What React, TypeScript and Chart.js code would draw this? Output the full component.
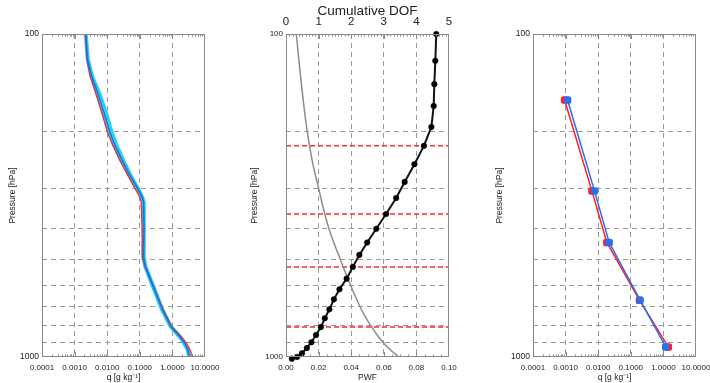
import React, { useEffect, useRef } from 'react';
import { Chart, registerables } from 'chart.js';
Chart.register(...registerables);

// ---------- axis ticks ----------
const pressureTicks = [100, 200, 300, 400, 500, 600, 700, 800, 900, 1000];
const qTicks = [0.0001, 0.001, 0.01, 0.1, 1, 10];
const pwfTicks = [0, 0.02, 0.04, 0.06, 0.08, 0.1];
const dofTicks = [0, 1, 2, 3, 4, 5];

// ---------- left panel: humidity profiles ----------
const qLevels = [100, 120, 135, 155, 180, 200, 220, 245, 270, 300, 318, 330, 400, 490, 525, 605, 715, 805, 860, 907, 950, 1000];
const qRed = [0.0021, 0.0024, 0.0030, 0.0047, 0.0074, 0.0100, 0.0145, 0.024, 0.040, 0.070, 0.097, 0.110, 0.118, 0.120, 0.145, 0.26, 0.53, 0.95, 1.8, 2.75, 3.45, 4.2];
const qBlue = [0.0022, 0.0025, 0.0033, 0.0055, 0.0088, 0.0120, 0.0170, 0.028, 0.046, 0.085, 0.115, 0.130, 0.135, 0.130, 0.150, 0.26, 0.50, 0.90, 1.6, 2.4, 3.0, 3.3];
const qCyanA = [0.0021, 0.0024, 0.0031, 0.0049, 0.0078, 0.0107, 0.0152, 0.025, 0.042, 0.078, 0.108, 0.122, 0.126, 0.122, 0.140, 0.24, 0.46, 0.84, 1.48, 2.2, 2.8, 3.1];
const qCyanB = [0.0023, 0.0027, 0.0036, 0.0064, 0.0104, 0.0140, 0.0198, 0.032, 0.051, 0.090, 0.122, 0.137, 0.142, 0.137, 0.157, 0.275, 0.52, 0.95, 1.7, 2.5, 3.1, 3.5];

// ---------- middle panel: cumulative DOF and PWF ----------
const dofLevels = [100, 121, 143, 167, 194, 222, 253, 287, 322, 361, 401, 442, 483, 526, 572, 617, 663, 712, 759, 808, 855, 900, 938, 974, 1000, 1012];
const dofValues = [4.61, 4.58, 4.55, 4.53, 4.46, 4.23, 3.94, 3.64, 3.38, 3.07, 2.77, 2.49, 2.25, 2.05, 1.86, 1.64, 1.47, 1.33, 1.19, 1.07, 0.92, 0.78, 0.64, 0.49, 0.34, 0.18];
const pwfLevels = [100, 150, 200, 250, 300, 350, 400, 450, 500, 550, 600, 650, 700, 750, 800, 850, 900, 950, 1000];
const pwfValues = [0.0063, 0.0099, 0.0130, 0.0163, 0.0200, 0.0231, 0.0263, 0.0299, 0.0334, 0.0366, 0.0397, 0.0426, 0.0455, 0.0486, 0.0520, 0.0556, 0.0595, 0.0639, 0.0694];
const redLevels = [222, 361, 526, 808];

// ---------- right panel: layer values ----------
const layerLevels = [160, 306, 442, 667, 931];
const layerBlue = [0.00115, 0.0077, 0.0217, 0.193, 1.18];
const layerRed = [0.00093, 0.0064, 0.0184, 0.184, 1.42];

const FONT = "'Liberation Sans', Arial, Helvetica, sans-serif";
const GRID = '#9a9a9a';
const FRAME = '#8a8a8a';
const TXT = '#222';

const pts = (xs: number[], ys: number[]) => xs.map((x, i) => ({ x, y: ys[i] }));

const logMinor: number[] = [];
for (let n = -4; n <= 0; n++) for (let k = 2; k <= 9; k++) logMinor.push(k * Math.pow(10, n));
const dofMinor: number[] = [];
for (let i = 0; i <= 50; i++) dofMinor.push(i / 10);
const pwfMinor: number[] = [];
for (let i = 0; i <= 20; i++) pwfMinor.push(i * 0.005);

type TickSpec = { id: string; values: number[]; len: number; edges: ('top' | 'bottom')[] };

const frameTicks = (specs: TickSpec[]) => ({
  id: 'frameTicks',
  afterDatasetsDraw(chart: any) {
    const { ctx, chartArea } = chart;
    const { left, right, top, bottom } = chartArea;
    ctx.save();
    ctx.strokeStyle = FRAME;
    ctx.lineWidth = 1;
    ctx.setLineDash([]);
    ctx.strokeRect(Math.round(left) + 0.5, Math.round(top) + 0.5, Math.round(right - left) - 1, Math.round(bottom - top) - 1);
    for (const s of specs) {
      const scale = chart.scales[s.id];
      ctx.beginPath();
      for (const v of s.values) {
        const x = Math.round(scale.getPixelForValue(v)) + 0.5;
        if (x < left || x > right) continue;
        for (const e of s.edges) {
          if (e === 'top') { ctx.moveTo(x, top); ctx.lineTo(x, top + s.len); }
          else { ctx.moveTo(x, bottom); ctx.lineTo(x, bottom - s.len); }
        }
      }
      ctx.stroke();
    }
    ctx.restore();
  },
});

const edgeColor = (edges: number[]) => (c: any) => {
  const v = c.tick ? c.tick.value : null;
  return edges.some((e) => Math.abs(e - v) < 1e-9) ? 'rgba(0,0,0,0)' : GRID;
};

const pressureAxis = (width: number, titlePad: number, tickSize: number) => ({
  type: 'logarithmic',
  reverse: true,
  min: 100,
  max: 1000,
  afterBuildTicks: (s: any) => { s.ticks = pressureTicks.map((v) => ({ value: v })); },
  afterFit: (s: any) => { s.width = width; s.paddingTop = 0; s.paddingBottom = 0; },
  ticks: {
    autoSkip: false,
    padding: 3,
    color: TXT,
    font: { family: FONT, size: tickSize },
    callback: (v: any) => (v === 100 || v === 1000 ? String(v) : ''),
  },
  grid: { color: edgeColor([100, 1000]), drawTicks: false, lineWidth: 1 },
  border: { display: false, dash: [5, 4] },
  title: { display: true, text: 'Pressure [hPa]', color: TXT, font: { family: FONT, size: 8.5 }, padding: { top: titlePad, bottom: 0 } },
});

const qAxis = () => ({
  type: 'logarithmic',
  position: 'bottom',
  min: 0.0001,
  max: 10,
  afterBuildTicks: (s: any) => { s.ticks = qTicks.map((v) => ({ value: v })); },
  afterFit: (s: any) => { s.height = 26; s.paddingLeft = 0; s.paddingRight = 0; },
  ticks: {
    autoSkip: false, maxRotation: 0, minRotation: 0, padding: 6, color: TXT,
    font: { family: FONT, size: 8 },
    callback: (v: any) => Number(v).toFixed(4),
  },
  grid: { color: edgeColor([0.0001, 10]), drawTicks: false, lineWidth: 1 },
  border: { display: false, dash: [5, 4] },
  title: { display: true, text: 'q [g kg⁻¹]', color: TXT, font: { family: FONT, size: 8.5 }, padding: { top: 0, bottom: 0 } },
});

const baseOpts = (padRight: number, padTop: number) => ({
  animation: false,
  responsive: false,
  devicePixelRatio: 1,
  layout: { padding: { top: padTop, right: padRight, left: 0, bottom: 0 } },
  plugins: { legend: { display: false }, tooltip: { enabled: false } },
});

const logTickSpec: TickSpec[] = [
  { id: 'x', values: logMinor, len: 2.5, edges: ['top', 'bottom'] },
  { id: 'x', values: qTicks, len: 5, edges: ['top', 'bottom'] },
];

// Note: Chart.js draws the first dataset on top.
function leftConfig(): any {
  return {
    type: 'scatter',
    data: {
      datasets: [
        { data: pts(qBlue, qLevels), showLine: true, borderColor: '#1f6fe6', borderWidth: 1.6, pointRadius: 0 },
        { data: pts(qRed, qLevels), showLine: true, borderColor: '#ff2a2a', borderWidth: 1.3, pointRadius: 0 },
        { data: pts(qCyanA, qLevels), showLine: true, borderColor: '#19d2f6', borderWidth: 2.5, pointRadius: 0 },
        { data: pts(qCyanB, qLevels), showLine: true, borderColor: '#19d2f6', borderWidth: 2.5, pointRadius: 0 },
      ],
    },
    options: {
      ...baseOpts(35, 34),
      scales: { x: qAxis(), y: pressureAxis(42, 8, 8.5) },
    },
    plugins: [frameTicks(logTickSpec)],
  };
}

function middleConfig(): any {
  const redSets = redLevels.map((p) => ({
    xAxisID: 'xTop',
    data: [{ x: 0, y: p }, { x: 5, y: p }],
    showLine: true, borderColor: '#ff2a2a', borderWidth: 1.5, borderDash: [5, 3], pointRadius: 0,
  }));
  return {
    type: 'scatter',
    data: {
      datasets: [
        { xAxisID: 'xTop', data: pts(dofValues, dofLevels), showLine: true, borderColor: '#111', borderWidth: 2, pointRadius: 2.8, pointBorderWidth: 0.5, pointBackgroundColor: '#000', pointBorderColor: '#000', clip: false },
        { xAxisID: 'x', data: pts(pwfValues, pwfLevels), showLine: true, borderColor: '#8c8c8c', borderWidth: 1.5, pointRadius: 0, tension: 0.4 },
        ...redSets,
      ],
    },
    options: {
      ...baseOpts(31, 0),
      scales: {
        x: {
          type: 'linear', position: 'bottom', min: 0, max: 0.1,
          afterBuildTicks: (s: any) => { s.ticks = pwfTicks.map((v) => ({ value: v })); },
          afterFit: (s: any) => { s.height = 26; s.paddingLeft = 0; s.paddingRight = 0; },
          ticks: { autoSkip: false, maxRotation: 0, minRotation: 0, padding: 6, color: TXT, font: { family: FONT, size: 8 }, callback: (v: any) => Number(v).toFixed(2) },
          grid: { color: edgeColor([0, 0.1]), drawTicks: false, lineWidth: 1 },
          border: { display: false, dash: [5, 4] },
          title: { display: true, text: 'PWF', color: TXT, font: { family: FONT, size: 8.5 }, padding: { top: 0, bottom: 0 } },
        },
        xTop: {
          type: 'linear', position: 'top', min: 0, max: 5,
          afterBuildTicks: (s: any) => { s.ticks = dofTicks.map((v) => ({ value: v })); },
          afterFit: (s: any) => { s.height = 34; s.paddingLeft = 0; s.paddingRight = 0; },
          ticks: { autoSkip: false, maxRotation: 0, minRotation: 0, padding: 5, color: TXT, font: { family: FONT, size: 11.5 }, callback: (v: any) => String(v) },
          grid: { display: false, drawTicks: false },
          border: { display: false },
          title: { display: true, text: 'Cumulative DOF', color: TXT, font: { family: FONT, size: 13.5 }, padding: { top: 3, bottom: 0 } },
        },
        y: pressureAxis(46, 10, 8),
      },
    },
    plugins: [frameTicks([
      { id: 'xTop', values: dofMinor, len: 2.5, edges: ['top'] },
      { id: 'xTop', values: dofTicks, len: 5, edges: ['top'] },
      { id: 'x', values: pwfMinor, len: 2.5, edges: ['bottom'] },
      { id: 'x', values: pwfTicks, len: 5, edges: ['bottom'] },
    ])],
  };
}

function rightConfig(): any {
  return {
    type: 'scatter',
    data: {
      datasets: [
        { data: pts(layerBlue, layerLevels), showLine: true, borderColor: '#2a6ff0', borderWidth: 1.5, pointRadius: 3.5, pointStyle: 'rectRounded', pointBackgroundColor: '#2a6ff0', pointBorderColor: '#2a6ff0' },
        { data: pts(layerRed, layerLevels), showLine: true, borderColor: '#ff2020', borderWidth: 1.5, pointRadius: 3.5, pointStyle: 'rectRounded', pointBackgroundColor: '#ff2020', pointBorderColor: '#ff2020' },
      ],
    },
    options: {
      ...baseOpts(14, 34),
      scales: { x: qAxis(), y: pressureAxis(53, 15, 8.5) },
    },
    plugins: [frameTicks(logTickSpec)],
  };
}

export default function App() {
  const r1 = useRef<HTMLCanvasElement>(null);
  const r2 = useRef<HTMLCanvasElement>(null);
  const r3 = useRef<HTMLCanvasElement>(null);

  useEffect(() => {
    Chart.defaults.font.family = FONT;
    const charts = [
      new Chart(r1.current as HTMLCanvasElement, leftConfig()),
      new Chart(r2.current as HTMLCanvasElement, middleConfig()),
      new Chart(r3.current as HTMLCanvasElement, rightConfig()),
    ];
    return () => charts.forEach((c) => c.destroy());
  }, []);

  const cs = (left: number, width: number): React.CSSProperties => ({
    position: 'absolute', left, top: 0, width, height: 383, display: 'block',
  });

  return (
    <div style={{ position: 'fixed', left: 0, top: 0, width: 710, height: 383, background: '#fff', overflow: 'hidden' }}>
      <canvas ref={r1} width={240} height={383} style={cs(0, 240)} />
      <canvas ref={r2} width={240} height={383} style={cs(240, 240)} />
      <canvas ref={r3} width={230} height={383} style={cs(480, 230)} />
    </div>
  );
}
